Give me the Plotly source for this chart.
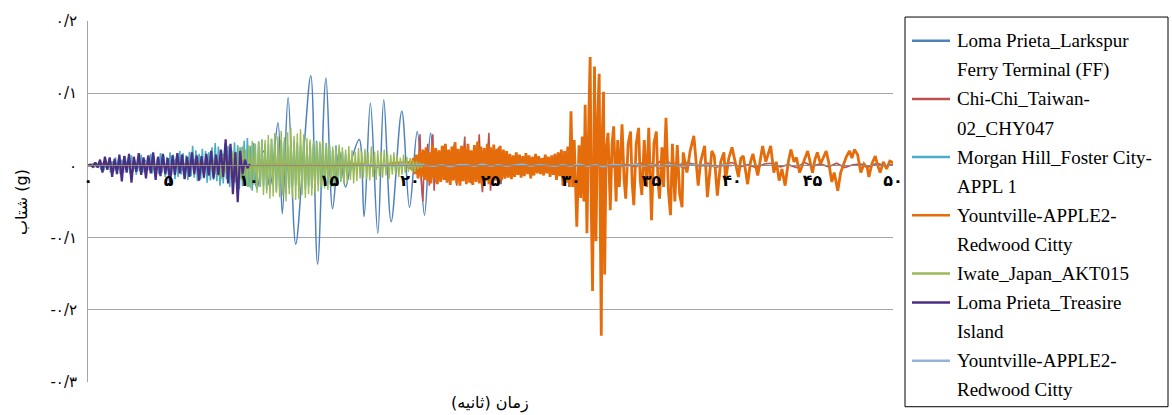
import plotly.graph_objects as go

# ---------------- data ----------------
# Loma Prieta_Larkspur Ferry Terminal (FF): extremes (time s, acc g)
larkspur_t = [0.0, 0.5, 1.0, 1.5, 2.0, 2.5, 3.0, 3.5, 4.0, 4.5, 5.0, 5.5, 6.0, 6.5, 7.0, 7.5, 8.0, 8.4, 8.8,
              9.2, 9.6, 10.0, 10.5, 10.9, 11.3, 11.8, 12.07, 12.43, 12.9, 13.4, 13.84, 14.26, 14.78, 15.19,
              15.6, 16.0, 16.4, 16.85, 17.15, 17.54, 18.0, 18.37, 18.83, 19.49, 19.97, 20.45, 20.9, 21.28,
              21.6, 22.0, 22.4, 22.8, 23.3, 24.0, 25.0, 26.0, 27.0, 30.0, 33.0, 35.0, 35.5, 36.0, 36.5, 37.0,
              38.0, 40.0]
larkspur_g = [0.0, 0.002, -0.003, 0.004, -0.005, 0.006, -0.005, 0.007, -0.006, 0.008, -0.007, 0.009, -0.008,
              0.01, -0.01, 0.012, -0.011, 0.015, -0.014, 0.018, -0.02, 0.022, -0.032, 0.02, -0.03, 0.059,
              -0.067, 0.094, -0.109, 0.02, 0.124, -0.137, 0.121, -0.06, 0.02, -0.03, 0.01, 0.036, -0.071,
              0.086, -0.094, 0.091, -0.078, 0.075, -0.058, 0.047, -0.069, 0.045, -0.023, 0.012, -0.01, 0.006,
              -0.004, 0.002, -0.002, 0.001, 0.0, 0.001, -0.001, 0.003, -0.004, 0.005, -0.003, 0.004, 0.0, 0.0]

# Chi-Chi_Taiwan-02_CHY047: spikes 19-30 s, then a small tail every 0.5 s
chichi_t = [19.0, 19.5, 20.0, 20.3, 20.5, 20.62, 20.7, 20.8, 20.9, 21.0, 21.1, 21.2, 21.3, 21.42, 21.5, 21.6,
            21.7, 21.85, 22.0, 22.1, 22.2, 22.35, 22.5, 22.65, 22.8, 22.9, 23.05, 23.2, 23.4, 23.5, 23.65,
            23.8, 24.0, 24.15, 24.3, 24.4, 24.5, 24.65, 24.75, 24.9, 25.0, 25.15, 25.3, 25.5, 25.65, 25.8,
            25.9, 26.1, 26.3, 26.5, 26.8, 27.1, 27.4, 27.7, 28.0, 28.4, 28.6, 29.0, 29.5]
chichi_g = [0.0, 0.002, -0.004, 0.008, -0.012, 0.043, -0.02, -0.05, 0.02, -0.015, 0.03, -0.028, 0.012, 0.043,
            -0.035, 0.015, -0.02, 0.018, -0.015, 0.027, -0.02, 0.015, -0.018, 0.02, 0.032, -0.028, 0.015,
            -0.022, 0.04, -0.018, 0.02, -0.025, 0.015, -0.02, 0.043, -0.015, -0.037, 0.02, -0.015, 0.045,
            -0.035, 0.012, -0.02, 0.025, -0.026, 0.02, -0.018, 0.012, -0.015, 0.01, -0.012, 0.01, -0.008,
            0.006, -0.006, 0.013, -0.005, 0.004, -0.003]
chichi_tail_start = 30.0
chichi_tail_step = 0.5
chichi_tail_g = [0.002, -0.001, 0.003, -0.002, 0.001, -0.003, 0.002, 0.001, -0.002, 0.004, -0.003, 0.005,
                 -0.002, 0.003, -0.004, 0.002, -0.001, 0.003, -0.003, 0.002, 0.004, -0.002, 0.001, -0.003,
                 0.002, 0.003, -0.002, 0.001, -0.003, 0.004, -0.001, 0.002, -0.002, 0.003, -0.003, 0.001,
                 0.002, -0.002, 0.003, -0.001, 0.002]

# Morgan Hill_Foster City-APPL 1: every 0.1 s from 0 s
morgan_start = 0.0
morgan_step = 0.1
morgan_g = [0, 0.001, -0.001, 0.002, -0.003, 0.004, -0.002, 0.005, -0.006, 0.004,
            -0.007, 0.008, -0.005, 0.009, -0.01, 0.006, -0.008, 0.011, -0.007, 0.009,
            -0.012, 0.008, -0.01, 0.013, -0.006, 0.01, -0.011, 0.014, -0.009, 0.007,
            -0.013, 0.011, -0.008, 0.015, -0.01, 0.009, -0.014, 0.012, -0.007, 0.016,
            -0.011, 0.013, -0.015, 0.009, -0.012, 0.017, -0.01, 0.014, -0.016, 0.012,
            -0.014, 0.018, -0.012, 0.015, -0.019, 0.013, -0.016, 0.02, -0.013, 0.017,
            -0.018, 0.014, -0.02, 0.019, -0.015, 0.027, -0.017, 0.021, -0.022, 0.016,
            -0.019, 0.023, -0.018, 0.02, -0.024, 0.018, -0.021, 0.025, -0.02, 0.031,
            -0.022, 0.026, -0.028, 0.02, -0.025, 0.03, -0.019, 0.027, -0.03, 0.024,
            -0.026, 0.032, -0.024, 0.028, -0.033, 0.025, -0.029, 0.034, -0.027, 0.038,
            -0.03, 0.027, -0.035, 0.031, -0.024, -0.027, 0.033, -0.03, 0.036, -0.028,
            0.03, -0.034, 0.029, -0.031, 0.037, -0.026, 0.032, -0.036, 0.028, -0.03,
            0.035, -0.029, 0.033, -0.038, 0.027, -0.032, 0.036, -0.03, 0.034, -0.027,
            0.031, -0.035, 0.028, -0.03, 0.037, -0.033, 0.026, -0.029, 0.032, -0.032,
            0.029, -0.031, 0.034, -0.026, 0.03, -0.033, 0.025, -0.028, 0.031, -0.024,
            0.027, -0.03, 0.022, -0.025, 0.028, -0.02, 0.024, -0.022, 0.019, -0.017,
            0.015, -0.012, 0.01, -0.009, 0.007, -0.006, 0.004, -0.003, 0.002, -0.001, 0]

# Yountville-APPLE2-Redwood Citty (orange)
yount_pre_start = 0.0
yount_pre_step = 1.0
yount_pre_g = [0, 0.001, -0.001, 0.001, 0, -0.001, 0.001, 0.002, -0.001, 0.001,
               -0.002, 0.001, 0.002, -0.001, 0.001, -0.002, 0.001, 0.002, -0.002, 0.003]
yount_a_start = 20.0
yount_a_step = 0.1
yount_a_g = [0.004, -0.006, 0.01, -0.012, 0.015, -0.018, 0.02, -0.016, 0.022, -0.02,
             0.025, -0.022, 0.018, -0.025, 0.028, -0.019, 0.024, -0.026, 0.021, -0.023,
             0.027, -0.02, 0.03, -0.024, 0.022, -0.027, 0.026, -0.021, 0.032, -0.025,
             0.023, -0.028, 0.027, -0.022, 0.025, -0.026, 0.03, -0.024, 0.021, -0.027,
             0.028, -0.023, 0.033, -0.025, 0.026, -0.029, 0.024, -0.022, 0.03, -0.026,
             0.025, -0.024, 0.029, -0.021, 0.023, -0.025, 0.027, -0.02, 0.022, -0.018,
             0.02, -0.017, 0.016, -0.019, 0.014, -0.016, 0.018, -0.013, 0.015, -0.017,
             0.013, -0.015, 0.017, -0.012, 0.014, -0.018, 0.012, -0.014, 0.016, -0.011,
             0.013, -0.012, 0.01, -0.014, 0.015, -0.011, 0.012, -0.016, 0.014, -0.013]
yount_b_t = [29.0, 29.1, 29.2, 29.3, 29.4, 29.5, 29.6, 29.7, 29.8, 29.9, 30.0, 30.1, 30.2, 30.36, 30.5, 30.6,
             30.7, 30.8, 30.88, 30.99, 31.1, 31.19, 31.26, 31.34, 31.46, 31.55, 31.65, 31.75, 31.82, 31.88,
             31.95, 32.02, 32.09, 32.18, 32.3, 32.44, 32.55, 32.65, 32.8, 32.9, 33.0, 33.17, 33.3, 33.4,
             33.55, 33.7, 33.8, 33.9, 34.05, 34.2, 34.3, 34.4, 34.55, 34.7, 34.83, 35.0, 35.15, 35.3, 35.4,
             35.5, 35.65, 35.75, 35.9, 36.05, 36.18, 36.3, 36.45, 36.6, 36.75, 36.9, 36.97,
             37.2, 37.4, 37.63, 37.75, 37.9, 38.05, 38.3, 38.47, 38.6, 38.75, 38.9, 39.09, 39.3, 39.5, 39.6,
             39.8, 40.0, 40.2, 40.4, 40.55, 40.7, 40.97, 41.15, 41.3, 41.45, 41.6, 41.9, 42.1, 42.4, 42.6,
             42.75, 42.93, 43.1, 43.3, 43.5, 43.66, 43.85, 44.0, 44.2, 44.4, 44.7, 44.85, 45.0, 45.15, 45.3,
             45.5, 45.65, 45.85, 46.0, 46.2, 46.35, 46.57, 46.75, 46.9, 47.1, 47.3, 47.45, 47.6, 47.8, 48.0,
             48.2, 48.4, 48.5, 48.7, 48.9, 49.05, 49.2, 49.4, 49.6, 49.8, 50.0]
yount_b_g = [0.016, -0.02, 0.018, -0.015, 0.022, -0.028, 0.02, -0.024, 0.026, -0.03, 0.075, -0.03, 0.035,
             -0.085, 0.028, -0.045, 0.04, -0.05, 0.084, -0.094, 0.06, 0.15, -0.06, -0.174, 0.137, -0.105,
             0.06, 0.127, -0.08, -0.236, 0.05, 0.102, -0.151, 0.02, 0.045, -0.062, 0.03, 0.054, -0.05,
             0.035, -0.03, 0.057, -0.02, -0.046, 0.03, 0.047, -0.025, -0.055, 0.03, 0.052, -0.02, -0.041,
             0.035, -0.03, 0.052, -0.076, 0.03, 0.047, -0.02, -0.046, 0.025, -0.03, 0.066, -0.035, -0.069,
             0.03, -0.05, 0.028, -0.04, -0.058, 0.018,
             -0.01, 0.02, 0.041, 0.01, -0.028, 0.005, 0.027, -0.044, -0.01, 0.02, 0.013, -0.042, 0.005,
             0.018, -0.021, 0.01, 0.025, 0.005, -0.016, 0.01, 0.013, -0.026, 0.005, 0.016, 0.002, -0.014,
             0.027, 0.005, 0.027, -0.01, 0.005, -0.021, -0.005, -0.028, 0.005, 0.022, 0.005, 0.011, -0.01,
             0.003, 0.02, 0.005, -0.01, 0.008, 0.018, 0.002, 0.01, 0.02, 0.005, -0.023, -0.01, -0.035,
             -0.01, 0.0, 0.012, 0.02, 0.01, 0.022, 0.015, -0.01, 0.002, -0.003, -0.016, 0.003, 0.013, 0.0,
             -0.01, 0.005, -0.005, 0.006, 0.004]

# Iwate_Japan_AKT015: every 0.1 s from 7.5 s
iwate_start = 7.5
iwate_step = 0.1
iwate_g = [0, 0.004, -0.006, 0.008, -0.012,
           0.01, -0.015, 0.012, -0.019, 0.014, -0.011, 0.016, -0.02, 0.013, -0.017,
           0.02, -0.024, 0.018, -0.021, 0.025, -0.019, 0.027, -0.025, 0.022, -0.03,
           0.028, -0.032, 0.034, -0.027, 0.03, -0.038, 0.033, -0.029, 0.036, -0.041,
           0.035, -0.039, 0.042, -0.046, 0.037, -0.043, 0.045, -0.038, 0.04, -0.044,
           0.048, -0.042, 0.039, -0.05, 0.046, -0.04, 0.052, -0.045, 0.041, -0.048,
           0.044, -0.047, 0.05, -0.041, 0.043, -0.045, 0.038, -0.04, 0.036, -0.042,
           0.034, -0.038, 0.031, -0.036, 0.033, -0.03, 0.035, -0.032, 0.028, -0.034,
           0.03, -0.027, 0.026, -0.031, 0.024, -0.028, 0.029, -0.023, 0.025, -0.026,
           0.022, -0.024, 0.027, -0.02, 0.021, -0.025, 0.019, -0.022, 0.024, -0.018,
           0.02, -0.017, 0.023, -0.019, 0.018, -0.021, 0.026, -0.016, 0.019, -0.02,
           0.021, -0.015, 0.018, -0.017, 0.022, -0.014, 0.017, -0.019, 0.015, -0.013,
           0.018, -0.012, 0.014, -0.016, 0.011, -0.013, 0.015, -0.01, 0.012, -0.009,
           0.01, -0.008, 0.007, -0.009, 0.006, -0.005, 0.004, -0.003, 0.002, 0]

# Loma Prieta_Treasire Island: every 0.15 s from 0 s
treasure_start = 0.0
treasure_step = 0.15
treasure_g = [0, 0.001, -0.002, 0.004, -0.003, 0.008, -0.01, 0.012, -0.006, 0.011,
              -0.016, 0.009, -0.012, 0.015, -0.022, 0.013, -0.01, 0.016, -0.024, 0.012,
              -0.009, 0.017, -0.013, 0.011, -0.018, 0.014, -0.011, 0.018, -0.02, 0.012,
              -0.015, 0.016, -0.012, 0.01, -0.025, 0.014, -0.013, 0.017, -0.011, 0.015,
              -0.019, 0.012, -0.016, 0.018, -0.012, 0.014, -0.021, 0.013, -0.017, 0.016,
              -0.014, 0.02, -0.018, 0.015, -0.013, 0.022, -0.016, 0.036, -0.025, 0.03,
              -0.04, 0.018, -0.051, 0.02, -0.012, 0.008, -0.004, 0.002]

# Yountville-APPLE2-Redwood Citty (light blue): every 0.5 s from 17 s
yount2_start = 17.0
yount2_step = 0.5
yount2_g = [0, 0.001, -0.001, 0.001, -0.001, 0.002, -0.001, 0.001, 0, -0.001, 0.001, -0.002, 0.001,
            0.001, -0.001, 0.002, -0.001, 0.001, -0.001, 0.001, 0.002, -0.001, 0.001, 0, -0.001, 0.001,
            -0.001, 0.002, -0.001, 0.001, -0.002, 0.001, 0.001, -0.001, 0.002, -0.001, 0.001, -0.001,
            0.001, 0, -0.001, 0.001, 0, 0.001, -0.001, 0.001, 0]

x_tickvals = [0, 5, 10, 15, 20, 25, 30, 35, 40, 45, 50]
x_ticktext = ["۰", "۵", "۱۰", "۱۵", "۲۰", "۲۵", "۳۰", "۳۵", "۴۰", "۴۵", "۵۰"]
y_tickvals = [0.2, 0.1, 0.0, -0.1, -0.2, -0.3]
y_ticktext = ["۰/۲", "۰/۱", "۰", "-۰/۱", "-۰/۲", "-۰/۳"]

series_names = ["Loma Prieta_Larkspur<br>Ferry Terminal (FF)", "Chi-Chi_Taiwan-<br>02_CHY047",
                "Morgan Hill_Foster City-<br>APPL 1", "Yountville-APPLE2-<br>Redwood Citty",
                "Iwate_Japan_AKT015", "Loma Prieta_Treasire<br>Island", "Yountville-APPLE2-<br>Redwood Citty"]
series_colors = ["#4F81BD", "#C0504D", "#4BACC6", "#E46C0A", "#9BBB59", "#4B2E83", "#95B3D7"]


def grid(start, step, vals):
    return [round(start + i * step, 4) for i in range(len(vals))]


# ---------------- assemble series ----------------
t_chichi = chichi_t + grid(chichi_tail_start, chichi_tail_step, chichi_tail_g)
g_chichi = chichi_g + chichi_tail_g
t_yount = grid(yount_pre_start, yount_pre_step, yount_pre_g) + grid(yount_a_start, yount_a_step, yount_a_g) + yount_b_t
g_yount = yount_pre_g + yount_a_g + yount_b_g

series = [
    (larkspur_t, larkspur_g, 1.5, "spline"),
    (t_chichi, g_chichi, 1.6, "linear"),
    (grid(morgan_start, morgan_step, morgan_g), morgan_g, 1.6, "linear"),
    (t_yount, g_yount, 2.8, "linear"),
    (grid(iwate_start, iwate_step, iwate_g), iwate_g, 1.4, "linear"),
    (grid(treasure_start, treasure_step, treasure_g), treasure_g, 2.2, "linear"),
    (grid(yount2_start, yount2_step, yount2_g), yount2_g, 1.5, "linear"),
]

fig = go.Figure()
for (tx, gy, w, shape), name, col in zip(series, series_names, series_colors):
    fig.add_trace(go.Scatter(x=tx, y=gy, mode="lines", name=name.replace("<br>", " "),
                             line=dict(color=col, width=w, shape=shape), showlegend=False,
                             hoverinfo="skip"))

# ---------------- layout ----------------
W, H = 1172, 415
ML, MR, MT, MB = 88, 279, 17, 33
PW, PH = W - ML - MR, H - MT - MB


def px_x(px):
    return (px - ML) / PW


def px_y(py):
    return (H - MB - py) / PH


fig.update_layout(
    width=W, height=H,
    margin=dict(l=ML, r=MR, t=MT, b=MB),
    paper_bgcolor="white", plot_bgcolor="white",
    font=dict(family="DejaVu Sans", color="black"),
    xaxis=dict(range=[0, 50], tickvals=x_tickvals, ticktext=x_ticktext, showgrid=False, zeroline=False,
               anchor="free", position=0.6, showline=True, linecolor="#8C8C8C", linewidth=1,
               ticks="", layer="above traces",
               tickfont=dict(family="DejaVu Sans", size=16, color="black", weight="bold")),
    yaxis=dict(range=[-0.3, 0.2], tickvals=y_tickvals, ticktext=y_ticktext, showgrid=True,
               gridcolor="#A6A6A6", gridwidth=1, zeroline=False, showline=True, linecolor="#A6A6A6",
               ticks="", ticklabelstandoff=7, layer="below traces",
               tickfont=dict(family="DejaVu Sans", size=15, color="black")),
    showlegend=False,
)

annotations = [
    dict(text="شتاب (g)", x=px_x(22), y=px_y(200), xref="paper", yref="paper", showarrow=False,
         textangle=-90, font=dict(family="DejaVu Sans", size=16, color="black"),
         xanchor="center", yanchor="middle"),
    dict(text="زمان (ثانیه)", x=px_x(490), y=px_y(403), xref="paper", yref="paper", showarrow=False,
         font=dict(family="DejaVu Sans", size=16, color="black"), xanchor="center", yanchor="middle"),
]
shapes = [dict(type="rect", xref="paper", yref="paper", x0=px_x(905), x1=px_x(1168), y0=px_y(13),
               y1=px_y(407), line=dict(color="black", width=1), fillcolor="white", layer="above")]

# legend drawn as text lines and line samples
line_y0, line_dy = 37, 29.4
row = 0
for name, col in zip(series_names, series_colors):
    parts = name.split("<br>")
    yc = line_y0 + line_dy * row
    shapes.append(dict(type="line", xref="paper", yref="paper", x0=px_x(912), x1=px_x(950),
                       y0=px_y(yc), y1=px_y(yc), line=dict(color=col, width=2.5), layer="above"))
    for p in parts:
        annotations.append(dict(text=p, x=px_x(955), y=px_y(line_y0 + line_dy * row), xref="paper",
                                yref="paper", showarrow=False, xanchor="left", yanchor="middle",
                                font=dict(family="Liberation Serif", size=19, color="black")))
        row += 1

fig.update_layout(annotations=annotations, shapes=shapes)
fig.write_html("out.html", config={"displayModeBar": False},
               post_script="document.body.style.margin='0';document.body.style.overflow='hidden';")
